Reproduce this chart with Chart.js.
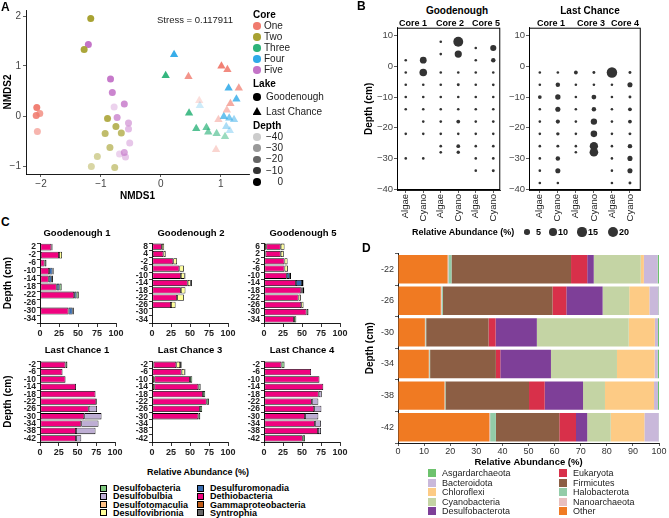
<!DOCTYPE html>
<html><head><meta charset="utf-8">
<script src="https://cdn.jsdelivr.net/npm/chart.js@4/dist/chart.umd.min.js"></script>
<style>
body{margin:0;width:669px;height:518px;background:#fff;position:relative;overflow:hidden;font-family:"Liberation Sans",Arial,Helvetica,sans-serif;}
.t{position:absolute;white-space:nowrap;color:#000;line-height:1;}
.s{position:absolute;}
canvas{position:absolute;}
</style></head><body>
<script>
// ---------- Panel A: NMDS ----------
const aNMDS1 = [-2.07,-2.08,-2.02,-2.06, -1.17,-1.28,-0.89,-0.75,-0.93,-0.66,-0.85,-1.06,-1.16,-0.77, -1.21,-0.84,-0.81,-0.78,-0.61,-0.73,-0.54,-0.54,-0.52,-0.61,-0.69,-0.59, 1.01,1.11,0.46,1.30,1.16,0.64,1.10,0.96,0.92, 0.08,0.47,0.59,0.76,0.79,0.93,1.07, 0.22,1.13,1.26,0.65,1.05,1.14,1.22,1.09,1.15];
const aNMDS2 = [0.17,0.01,0.05,-0.31, 1.95,1.33,-0.05,-0.21,-0.35,-0.34,-0.63,-0.81,-1.01,-1.03, 1.43,0.74,0.47,0.18,0.24,-0.03,-0.14,-0.26,-0.54,-0.73,-0.76,-0.82, 1.00,0.93,0.79,0.56,0.25,0.31,0.12,-0.07,-0.67, 0.81,0.06,-0.25,-0.23,-0.32,-0.35,-0.41, 1.23,0.56,0.34,0.21,-0.01,-0.04,-0.07,-0.21,-0.29];
const aCore = ['One','One','One','One', 'Two','Two','Two','Two','Two','Two','Two','Two','Two','Two', 'Five','Five','Five','Five','Five','Five','Five','Five','Five','Five','Five','Five', 'One','One','One','One','One','One','One','One','One', 'Three','Three','Three','Three','Three','Three','Three', 'Four','Four','Four','Four','Four','Four','Four','Four','Four'];
const aLake = ['G','G','G','G', 'G','G','G','G','G','G','G','G','G','G', 'G','G','G','G','G','G','G','G','G','G','G','G', 'L','L','L','L','L','L','L','L','L', 'L','L','L','L','L','L','L', 'L','L','L','L','L','L','L','L','L'];
const aDepth = [-2,-6,-14,-22, 4,-2,-6,-10,-14,-14,-18,-26,-28,-22, 2,-2,-6,-34,-10,-14,-22,-26,-30,-18,-34,-30, -2,-6,-10,-14,-18,-38,-26,-30,-34, -2,-6,-10,-14,-18,-22,-26, -2,-6,-10,-38,-14,-18,-26,-30,-34];
const aCores = ['One','Two','Three','Four','Five'];
const aXTicks = [-2,-1,0,1];
const aYTicks = [-1,0,1,2];
const aDepthLegend = [-40,-30,-20,-10,0];

// ---------- Panel B: algae / cyano bubbles ----------
const bColumns = ['Algae','Cyano','Algae','Cyano','Algae','Cyano'];
const bGdDepth = [[2,-2,-6,-10,-14,-22,-30],[2,-2,-6,-10,-14,-18,-22,-30],[8,4,-2,-6,-10,-14,-18,-22,-26,-28],[8,4,-2,-6,-10,-14,-18,-22,-26,-28],[6,2,-2,-6,-10,-14,-18,-22,-26,-30,-34],[6,2,-2,-6,-10,-14,-18,-22,-26,-30,-34]];
const bGdAbund = [[0.8,0.8,0.8,0.8,0.8,0.8,0.8],[8,10,1,0.8,0.8,0.8,0.8,0.8],[0.8,0.8,0.8,0.8,0.8,0.8,1.2,1.2,1.3,1.3],[17,9,1,1.5,1,1,2.5,1,2.5,2],[0.7,0.7,0.7,0.7,0.7,0.7,0.7,0.7,0.7,0.7,0.7],[6.5,3.5,1,1.3,1,1,1.3,1,1.3,1.3,1.5]];
const bLcDepth = [[-2,-6,-10,-14,-18,-22,-26,-30,-34,-38],[-2,-6,-10,-14,-18,-22,-26,-30,-34,-38],[-2,-6,-10,-14,-18,-22,-26,-28],[-2,-6,-10,-14,-18,-22,-26,-28],[-2,-6,-10,-14,-18,-22,-26,-30,-34,-38],[-2,-6,-10,-14,-18,-22,-26,-30,-34,-38]];
const bLcAbund = [[0.8,0.8,2.5,0.8,0.8,1,0.8,0.8,0.8,0.8],[1,3.5,5,4.5,3,2,1.5,3.5,4.5,1],[2.5,0.8,0.8,0.8,0.8,0.8,0.8,0.8],[1.5,1.2,4,3.5,7,7.5,12,13],[19,0.8,0.8,0.8,0.8,0.8,0.8,0.8,0.8,0.8],[1.5,4.5,1.5,2.5,2.5,1.5,3.5,4.5,4.5,1.5]];
const bYTicks = [-40,-30,-20,-10,0,10];
const bSizeLegend = [5,10,15,20];

// ---------- Panel C: sulfur-cycling classes ----------
const cClasses = ['Syntrophia','Gammaproteobacteria','Dethiobacteria','Desulfuromonadia','Desulfovibrionia','Desulfotomaculia','Desulfobulbia','Desulfobacteria'];
const cXTicks = [0,25,50,75,100];
const gd1Depths = ['2','-2','-6','-10','-14','-18','-22','-26','-30','-34'];
const gd1Values = [[0,0,15,0,0,0,0,1.5],[0,1,24,0,4,0,0,0],[0,0,6,0,0,0,0,2.5],[0,0,12,4.5,0,0,0,1.5],[0,0,11.5,4,0,0,0,1.5],[0,0,22,3.5,0,0,0,3],[0,0,45,3,0,0,0,3],[0,0,0,0,0,0,0,0],[0,0,37.5,5.5,0,0,0,1.5],[0,0,0,0,0,0,0,0]];
const gd2Depths = ['8','4','-2','-6','-10','-14','-18','-22','-26','-30','-34'];
const gd2Values = [[0,0,13,0,3,0,0,0],[0,1,14,0,3,0,0,0],[0,0,28,0,5,0,0,0],[0,0,36,0,6,0,0,0],[0,0,38,0,5,0,0,1],[0,0,47,0,4,0,0,1.5],[0,0,38,0,6,0,0,0],[0,0,33,0,9,0,0,0],[0,0,25,0,6,0,0,0],[0,0,0,0,0,0,0,0],[0,0,0,0,0,0,0,0]];
const gd5Depths = ['6','2','-2','-6','-10','-14','-18','-22','-26','-30','-34'];
const gd5Values = [[0,3,19,0,5,0,0,0],[0,2,20,0,4,0,0,0],[0,0,27,0,4,0,0,0],[0,0,27,0,4.5,0,0,0],[0,0,30,4,0,0,0,1.5],[0,0,42,8,0,0,0,2],[0,0,49,0,2,0,0,2],[0,0,45.5,0,3,0,0,0],[0,0,49,0,3,0,0,0],[0,0,56,0,0,0,0,2.5],[0,0,39.5,0,0,0,0,3]];
const lcDepths = ['-2','-6','-10','-14','-18','-22','-26','-30','-34','-38','-42'];
const lc1Values = [[0,0,34,0,0,0,0,2.5],[0,0,30,0,0,0,0,0],[0,0,34,0,0,0,0,0],[0,0,48,0,0,0,0,0],[0,0,74,0,0,0,0,0],[0,0,75,0,0,0,0,1],[0,0,65,0,0,0,11,0],[0,0,59,0,0,0,23,0],[0,0,55,0,0,0,23,0],[0,0,48,0,0,0,26,0],[0,0,48,0,0,0,7,0]];
const lc3Values = [[0,2,30,0,5,0,0,2],[0,0,39,0,4,0,0,1],[0,3,47,0,0,0,0,3],[0,3,58,0,0,0,0,3],[0,0,67,0,0,0,0,3],[0,0,72,0,0,0,0,3],[0,0,63,0,0,0,0,3],[0,0,61,0,0,0,0,2.5],[0,0,0,0,0,0,0,0],[0,0,0,0,0,0,0,0],[0,0,0,0,0,0,0,0]];
const lc4Values = [[0,0,23,0,0,0,0,4],[0,0,62,0,0,0,0,0],[0,0,73,0,0,0,0,0],[0,0,78,0,0,0,0,0],[0,0,72,0,0,0,4,0],[0,0,63,0,0,0,8.5,0],[0,0,66,0,0,0,9.5,0],[0,0,54,0,0,0,17.5,0],[0,0,67,0,0,0,8,0],[0,0,71,0,0,0,4,0],[0,0,51,0,0,0,0,3]];

// ---------- Panel D: phyla ----------
const dDepths = ['-22','-26','-30','-34','-38','-42'];
const dTaxa = ['Other','Nanoarchaeota','Halobacterota','Firmicutes','Eukaryota','Desulfobacterota','Cyanobacteria','Chloroflexi','Bacteroidota','Asgardarchaeota'];
const dOther = [19,16.4,10.3,11.8,17.8,35];
const dNano = [0.3,0.3,0.2,0.2,0.2,0.3];
const dHalo = [1.2,0.5,0.3,0.3,0.2,2.2];
const dFirm = [45.8,42,23.9,25.2,32,24.3];
const dEuk = [6.2,5.3,2.7,1.7,6,6.4];
const dDesulfo = [2.5,13.9,15.8,19.4,14.7,4.3];
const dCyano = [18,10.2,35.2,25.3,8.4,9];
const dChloro = [1.2,7.7,10,14.4,18.8,12.9];
const dBact = [5.3,3.5,1.2,1.2,1.5,5.5];
const dAsgard = [0.5,0.2,0.4,0.5,0.4,0.1];
const dXTicks = [0,10,20,30,40,50,60,70,80,90,100];

// ---------- styles ----------
const FONT = '"Liberation Sans", Arial, Helvetica, sans-serif';
Chart.defaults.font.family = FONT;
Chart.defaults.color = '#333';
const coreColors = {One:'#F07B6E', Two:'#A8A232', Three:'#2DB37A', Four:'#30AAE8', Five:'#C474C8'};
const cColors = {Syntrophia:'#666666', Gammaproteobacteria:'#BF5B17', Dethiobacteria:'#F0027F', Desulfuromonadia:'#386CB0', Desulfovibrionia:'#FFFF99', Desulfotomaculia:'#FDC086', Desulfobulbia:'#BEAED4', Desulfobacteria:'#7FC97F'};
const dColors = {Other:'#F07A22', Nanoarchaeota:'#E8BFBF', Halobacterota:'#93CCA8', Firmicutes:'#8C5E44', Eukaryota:'#D8304A', Desulfobacterota:'#7E3F98', Cyanobacteria:'#C4D4A4', Chloroflexi:'#FDCB85', Bacteroidota:'#C9B8DA', Asgardarchaeota:'#6DC26D'};
const dSeries = {Other:dOther, Nanoarchaeota:dNano, Halobacterota:dHalo, Firmicutes:dFirm, Eukaryota:dEuk, Desulfobacterota:dDesulfo, Cyanobacteria:dCyano, Chloroflexi:dChloro, Bacteroidota:dBact, Asgardarchaeota:dAsgard};

function alphaOf(d){ return Math.max(0.18, Math.min(1, 0.2 + 0.8*(d+40)/40)); }
function rgba(hex,a){ const n=parseInt(hex.slice(1),16); return `rgba(${n>>16},${(n>>8)&255},${n&255},${a})`; }
function bubbleR(v){ return Math.max(1.3, 1.2*Math.sqrt(v)); }

function T(s,x,y,o={}){
  const d=document.createElement('div'); d.className='t'; d.textContent=s;
  d.style.fontSize=(o.size||9)+'px'; if(o.bold) d.style.fontWeight='bold';
  d.style.color=o.color||'#000'; d.style.left=x+'px'; d.style.top=y+'px';
  const ax=o.align==='c'?'-50%':o.align==='r'?'-100%':'0';
  d.style.transform=`translate(${ax},-50%)`+(o.rot?` rotate(${o.rot}deg)`:'');
  document.body.appendChild(d);
}
function S(x,y,w,h,color,extra){
  const d=document.createElement('div'); d.className='s';
  d.style.cssText=`position:absolute;left:${x-w/2}px;top:${y-h/2}px;width:${w}px;height:${h}px;background:${color};box-sizing:border-box;`+(extra||'');
  document.body.appendChild(d);
}
const boxPlugin = {id:'boxBorder', afterDraw(ch,a,opt){ if(!opt.on) return; const c=ch.ctx, ca=ch.chartArea; c.save(); c.strokeStyle='#000'; c.lineWidth=1; c.strokeRect(ca.left+0.5,ca.top+0.5,ca.right-ca.left-1,ca.bottom-ca.top-1); c.restore(); }};
Chart.register(boxPlugin);

function mk(x0,y0,x1,y1,yW,xH,pad,cfg){
  const p=Object.assign({l:0,t:6,r:8,b:0},pad);
  const left=x0-yW-p.l, top=y0-p.t, w=x1-x0+yW+p.l+p.r, h=y1-y0+p.t+xH+p.b;
  const cv=document.createElement('canvas'); cv.width=w; cv.height=h;
  cv.style.cssText=`left:${left}px;top:${top}px;width:${w}px;height:${h}px;`;
  document.body.appendChild(cv);
  const o=cfg.options=cfg.options||{};
  o.responsive=false; o.animation=false; o.devicePixelRatio=1; o.maintainAspectRatio=false;
  o.layout={padding:{left:p.l,top:p.t,right:p.r,bottom:p.b}};
  o.plugins=Object.assign({legend:{display:false},tooltip:{enabled:false},title:{display:false}},o.plugins||{});
  o.scales.x.afterFit=s=>{s.height=xH;}; o.scales.y.afterFit=s=>{s.width=yW;};
  return new Chart(cv,cfg);
}
function axisStyle(extra){ return Object.assign({grid:{display:true,drawOnChartArea:false,tickLength:3,color:'#333',lineWidth:0.8}, border:{display:true,color:'#000',width:0.9}}, extra); }

// ================= PANEL A =================
{
  const datasets=[];
  ['G','L'].forEach(lake=>aCores.forEach(core=>{
    const idx=aCore.map((c,i)=>i).filter(i=>aCore[i]===core && aLake[i]===lake);
    if(!idx.length) return;
    const cols=idx.map(i=>rgba(coreColors[core],alphaOf(aDepth[i])));
    datasets.push({data:idx.map(i=>({x:aNMDS1[i],y:aNMDS2[i]})), pointStyle: lake==='G'?'circle':'triangle',
      pointRadius: lake==='G'?3.5:4.8, pointBackgroundColor:cols, pointBorderColor:cols, pointBorderWidth:0});
  }));
  mk(26,10,249,174,26,31,{t:8,r:6},{type:'scatter',data:{datasets},options:{scales:{
    x:axisStyle({min:-2.25,max:1.47,afterBuildTicks:s=>{s.ticks=aXTicks.map(v=>({value:v}));},
      ticks:{font:{size:10},color:'#444',padding:1,callback:v=>String(v).replace('-','\u2212')},
      title:{display:true,text:'NMDS1',font:{size:10,weight:'bold'},color:'#000',padding:{top:2,bottom:3}}}),
    y:axisStyle({min:-1.16,max:2.12,afterBuildTicks:s=>{s.ticks=aYTicks.map(v=>({value:v}));},
      ticks:{font:{size:10},color:'#444',padding:2,callback:v=>String(v).replace('-','\u2212')},
      title:{display:true,text:'NMDS2',font:{size:10,weight:'bold'},color:'#000',padding:{top:2,bottom:1}}})
  }}});
  T('A',1,7,{size:12,bold:true});
  T('Stress = 0.117911',157,20,{size:9.5,color:'#222'});
  T('Core',253,15,{size:10,bold:true});
  aCores.forEach((c,i)=>{ const y=26+i*11; S(257,y,7.5,7.5,coreColors[c],'border-radius:50%;'); T(c,264,y,{size:10,color:'#222'}); });
  T('Lake',253,84,{size:10,bold:true});
  S(257,97,7.5,7.5,'#000','border-radius:50%;'); T('Goodenough',266,97,{size:10,color:'#222'});
  S(257,111,9,8,'#000','clip-path:polygon(50% 0,100% 100%,0 100%);'); T('Last Chance',266,112,{size:10,color:'#222'});
  T('Depth',253,126,{size:10,bold:true});
  aDepthLegend.forEach((d,i)=>{ const y=137+i*11.2; S(257,y,7.5,7.5,rgba('#000000',alphaOf(d)),'border-radius:50%;'); T(String(d).replace('-','\u2212'),283,y,{size:10,color:'#222',align:'r'}); });
}

// ================= PANEL B =================
function bBubbles(depths,abund){ const pts=[]; depths.forEach((col,ci)=>col.forEach((d,k)=>pts.push({x:ci,y:d,r:bubbleR(abund[ci][k])}))); return pts; }
function bChart(x0,x1,yW,depths,abund,withTitle,xmin,xmax){
  mk(x0,27,x1,190,yW,38,{t:6,r:4},{type:'bubble',data:{datasets:[{data:bBubbles(depths,abund),backgroundColor:'#333',borderWidth:0}]},
    options:{plugins:{boxBorder:{on:true}},scales:{
      x:axisStyle({type:'linear',min:xmin,max:xmax,afterBuildTicks:s=>{s.ticks=bColumns.map((c,i)=>({value:i}));},
        ticks:{autoSkip:false,minRotation:90,maxRotation:90,font:{size:9.5},color:'#222',padding:1,callback:v=>bColumns[v]}}),
      y:axisStyle({min:-40.3,max:12.6,afterBuildTicks:s=>{s.ticks=bYTicks.map(v=>({value:v}));},
        ticks:{font:{size:9.5},color:'#444',padding:1,callback:v=>String(v).replace('-','\u2212')},
        title:{display:withTitle,text:'Depth (cm)',font:{size:10,weight:'bold'},color:'#000',padding:{top:1,bottom:1}}})
    }}});
}
bChart(397,502,35,bGdDepth,bGdAbund,true,-0.5,5.4);
bChart(529,642,24,bLcDepth,bLcAbund,false,-0.6,5.6);
T('B',357,6,{size:12,bold:true});
T('Goodenough',457,11,{size:10,bold:true,align:'c'});
T('Core 1',413,23,{size:9,bold:true,align:'c'}); T('Core 2',450,23,{size:9,bold:true,align:'c'}); T('Core 5',486,23,{size:9,bold:true,align:'c'});
T('Last Chance',590,11,{size:10,bold:true,align:'c'});
T('Core 1',551,23,{size:9,bold:true,align:'c'}); T('Core 3',591,23,{size:9,bold:true,align:'c'}); T('Core 4',625,23,{size:9,bold:true,align:'c'});
T('Relative Abundance (%)',412,232,{size:9,bold:true});
{ const xs=[527,553,582,613], lx=[536,558,588,619];
  bSizeLegend.forEach((v,i)=>{ const r=bubbleR(v); S(xs[i],232,2*r,2*r,'#333','border-radius:50%;'); T(String(v),lx[i],232,{size:9,bold:true}); }); }

// ================= PANEL C =================
function cChart(depths,rows,x0,y0,x1,y1,withTitle){
  const datasets=cClasses.map((cls,k)=>({label:cls,data:rows.map(r=>r[k]>0?r[k]:null),backgroundColor:cColors[cls],borderColor:'#000',borderWidth:0.8,borderSkipped:false,barPercentage:0.86,categoryPercentage:1}));
  const yW=withTitle?40:24;
  mk(x0,y0,x1,y1,yW,17,{t:6,r:9},{type:'bar',data:{labels:depths,datasets},options:{indexAxis:'y',scales:{
    x:axisStyle({stacked:true,min:0,max:100,afterBuildTicks:s=>{s.ticks=cXTicks.map(v=>({value:v}));},
      grid:{display:true,drawOnChartArea:false,tickLength:4,color:'#000',lineWidth:0.8},
      ticks:{autoSkip:false,maxRotation:0,font:{size:9,weight:'bold'},color:'#222',padding:1}}),
    y:axisStyle({stacked:true,grid:{display:true,drawOnChartArea:false,tickLength:3,color:'#000',lineWidth:0.8},
      ticks:{autoSkip:false,font:{size:8.5,weight:'bold'},color:'#222',padding:1},
      title:{display:withTitle,text:'Depth (cm)',font:{size:10,weight:'bold'},color:'#000',padding:{top:2,bottom:1}}})
  }}});
}
cChart(gd1Depths,gd1Values,40,243,116,323,true);
cChart(gd2Depths,gd2Values,152,243,228,323,false);
cChart(gd5Depths,gd5Values,264,243,340,323,false);
cChart(lcDepths,lc1Values,40,361,115,442,true);
cChart(lcDepths,lc3Values,152,361,228,442,false);
cChart(lcDepths,lc4Values,264,361,340,442,false);
T('C',1,222,{size:12,bold:true});
T('Goodenough 1',77,233,{size:9.5,bold:true,align:'c'});
T('Goodenough 2',191,233,{size:9.5,bold:true,align:'c'});
T('Goodenough 5',303,233,{size:9.5,bold:true,align:'c'});
T('Last Chance 1',77,350,{size:9.5,bold:true,align:'c'});
T('Last Chance 3',190,350,{size:9.5,bold:true,align:'c'});
T('Last Chance 4',302,350,{size:9.5,bold:true,align:'c'});
T('Relative Abundance (%)',198,472,{size:9,bold:true,align:'c'});
{ const col1=['Desulfobacteria','Desulfobulbia','Desulfotomaculia','Desulfovibrionia'], col2=['Desulfuromonadia','Dethiobacteria','Gammaproteobacteria','Syntrophia'];
  col1.forEach((c,i)=>{ const y=488+i*8.3; S(103,y,7,7,cColors[c],'border:0.8px solid #000;'); T(c,113,y,{size:9,bold:true}); });
  col2.forEach((c,i)=>{ const y=488+i*8.3; S(200,y,7,7,cColors[c],'border:0.8px solid #000;'); T(c,210,y,{size:9,bold:true}); }); }

// ================= PANEL D =================
{
  const datasets=dTaxa.map(t=>({label:t,data:dSeries[t],backgroundColor:dColors[t],borderWidth:0,barPercentage:0.9,categoryPercentage:1}));
  mk(398,253,659,443,36,28,{t:6,r:10},{type:'bar',data:{labels:dDepths,datasets},options:{indexAxis:'y',scales:{
    x:axisStyle({stacked:true,min:0,max:100,afterBuildTicks:s=>{s.ticks=dXTicks.map(v=>({value:v}));},
      ticks:{autoSkip:false,maxRotation:0,font:{size:9},color:'#333',padding:0},
      title:{display:true,text:'Relative Abundance (%)',font:{size:9.5,weight:'bold'},color:'#000',padding:{top:1,bottom:3}}}),
    y:axisStyle({stacked:true,ticks:{autoSkip:false,font:{size:9},color:'#333',padding:1},
      title:{display:true,text:'Depth (cm)',font:{size:10,weight:'bold'},color:'#000',padding:{top:2,bottom:1}}})
  }}});
  T('D',362,248,{size:12,bold:true});
  const col1=['Asgardarchaeota','Bacteroidota','Chloroflexi','Cyanobacteria','Desulfobacterota'], col2=['Eukaryota','Firmicutes','Halobacterota','Nanoarchaeota','Other'];
  col1.forEach((c,i)=>{ const y=473+i*9.5; S(432,y,8,8,dColors[c]); T(c,442,y,{size:9,color:'#222'}); });
  col2.forEach((c,i)=>{ const y=473+i*9.5; S(563,y,8,8,dColors[c]); T(c,573,y,{size:9,color:'#222'}); });
}
</script>
</body></html>
